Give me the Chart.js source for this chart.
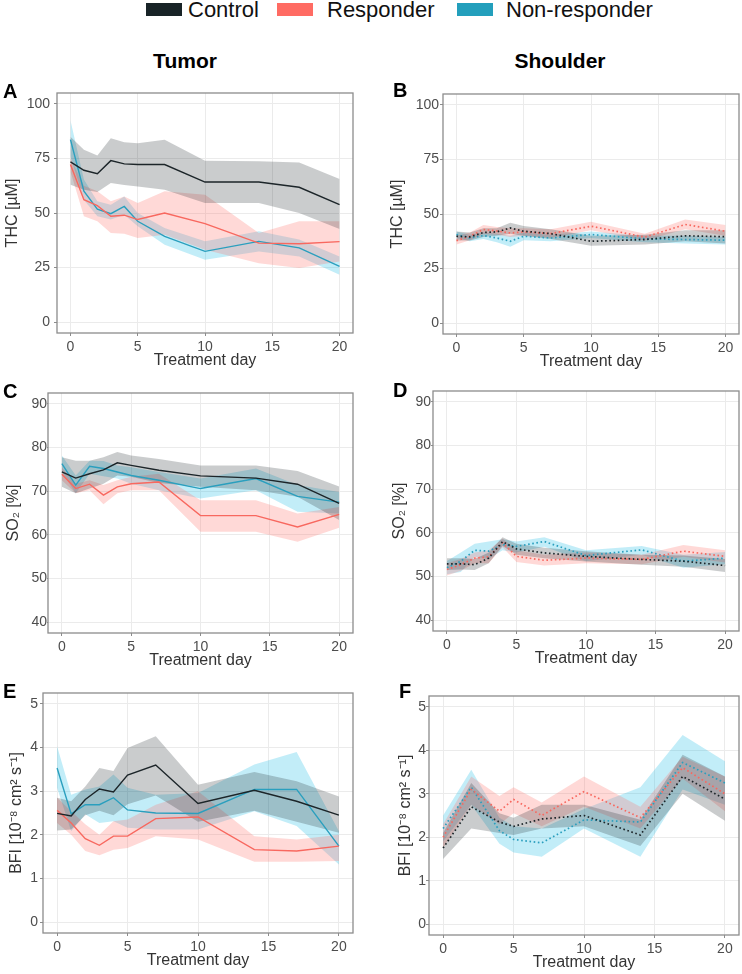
<!DOCTYPE html>
<html>
<head>
<meta charset="utf-8">
<script src="https://cdn.jsdelivr.net/npm/chart.js@4.4.1/dist/chart.umd.min.js"></script>
<style>
body { margin: 0; background: #fff; font-family: "Liberation Sans", Arial, sans-serif; }
#page { position: relative; width: 742px; height: 974px; overflow: hidden; background: #fff; }
#page canvas { position: absolute; }
.key { position: absolute; top: 3px; width: 36px; height: 13px; }
.ktxt { position: absolute; top: -2px; font-size: 22px; line-height: 24px; color: #111; }
.coltitle { position: absolute; top: 49px; width: 200px; text-align: center; font-size: 21px; line-height: 24px; font-weight: bold; color: #000; }
.letter { position: absolute; font-size: 20px; line-height: 22px; font-weight: bold; color: #000; }
</style>
</head>
<body>
<div id="page">
  <div class="key" style="left:146px;background:#182327"></div><div class="ktxt" style="left:188px">Control</div>
  <div class="key" style="left:277px;background:#ff6b63"></div><div class="ktxt" style="left:327px">Responder</div>
  <div class="key" style="left:457px;background:#239fbc"></div><div class="ktxt" style="left:506px">Non-responder</div>
  <div class="coltitle" style="left:85px">Tumor</div>
  <div class="coltitle" style="left:460px">Shoulder</div>
  <canvas id="cA"></canvas><canvas id="cB"></canvas>
  <canvas id="cC"></canvas><canvas id="cD"></canvas>
  <canvas id="cE"></canvas><canvas id="cF"></canvas>
  <div class="letter" style="left:3px;top:80px">A</div>
  <div class="letter" style="left:393px;top:79px">B</div>
  <div class="letter" style="left:3px;top:380px">C</div>
  <div class="letter" style="left:393px;top:379px">D</div>
  <div class="letter" style="left:3px;top:680px">E</div>
  <div class="letter" style="left:399px;top:680px">F</div>
</div>
<script>
// measurement days
const days = [0, 1, 2, 3, 4, 5, 7, 10, 14, 17, 20];
const daysF = [0, 2, 4, 5, 7, 10, 14, 17, 20];

// tick labels
const dayTicks = [0, 5, 10, 15, 20];
const thcTicks = [0, 25, 50, 75, 100];
const so2Ticks = [40, 50, 60, 70, 80, 90];
const bfiTicks = [0, 1, 2, 3, 4, 5];

// A - THC tumor
const aCtrl   = [73.4, 69.6, 68, 74, 72.5, 72.2, 72.2, 64.2, 64.2, 61.8, 53.8];
const aCtrlHi = [85, 79, 76.3, 84.3, 82.4, 82, 83.6, 74, 73.7, 73.2, 65.6];
const aCtrlLo = [63, 60.7, 59.6, 63.8, 62.8, 62.2, 60.7, 54.6, 54.6, 50, 42.7];
const aResp   = [72.2, 56.1, 53.4, 48.5, 49, 47, 50, 45.1, 36.2, 35.9, 36.9];
const aRespHi = [75, 62.5, 60, 55.4, 57.6, 54.6, 60, 58.4, 40.8, 46.2, 46.2];
const aRespLo = [69, 48.5, 46.2, 40.8, 40.5, 38.5, 40, 33.2, 27, 24.8, 27.8];
const aNR     = [83.6, 60, 51.8, 49.7, 53, 46.2, 39.3, 32.4, 37, 34, 25.5];
const aNRHi   = [92.5, 65.3, 55.4, 53.8, 57.6, 50, 43.1, 37, 41.6, 37.8, 30.1];
const aNRLo   = [76, 56, 48.5, 47, 49.2, 43.9, 35.5, 28.6, 32.4, 30.1, 21.7];

// B - THC shoulder
const bCtrl   = [39.8, 39.5, 41.5, 41.8, 43.6, 42.1, 41, 37.5, 38.3, 40, 39.6];
const bCtrlHi = [42, 41.5, 43.5, 43.5, 46, 44.5, 43, 40, 40.5, 42.5, 42.5];
const bCtrlLo = [37.8, 37.8, 39.5, 40, 41, 40, 38.5, 35.5, 36, 37.5, 36.5];
const bResp   = [37.8, 39.8, 42.9, 42.2, 41.3, 41.8, 41, 44.4, 39.4, 45.2, 42.1];
const bRespHi = [40, 41.5, 45, 44, 43.5, 43.5, 43, 46.5, 41, 47.5, 45];
const bRespLo = [36, 38, 41, 40.5, 39.5, 40, 39, 42.5, 37.8, 43, 40];
const bNR     = [40.6, 39, 40.1, 39, 37.5, 39.8, 39, 40.6, 38.6, 38.3, 38];
const bNRHi   = [42, 40.5, 41.5, 41, 40, 41.5, 40.5, 42, 40, 40, 39.5];
const bNRLo   = [39, 37.5, 38.5, 37, 35, 38, 37.5, 39, 37, 36.5, 36];

// C - SO2 tumor
const cCtrl   = [74.4, 73, 74, 74.9, 76.5, 75.9, 74.8, 73.5, 73, 71.6, 67.2];
const cCtrlHi = [77.8, 77, 77, 77.8, 79, 78.2, 77.4, 75.9, 75.9, 74.6, 71.1];
const cCtrlLo = [71, 69.5, 70.6, 71.7, 73.6, 73.3, 71.9, 71, 70.2, 68.7, 63.4];
const cResp   = [73.9, 70.6, 71.6, 69.1, 71, 71.7, 72.1, 64.4, 64.4, 61.8, 64.7];
const cRespHi = [75.4, 71.7, 72.5, 71.4, 72.5, 73.3, 74, 67.9, 67.9, 64.9, 66.4];
const cRespLo = [72.5, 69.5, 70.2, 67, 69.5, 70.2, 70.2, 60.7, 60.7, 58.4, 61.6];
const cNR     = [76.3, 71.4, 75.7, 75.2, 74.4, 73.6, 72.5, 70.6, 72.9, 68.8, 67.5];
const cNRHi   = [78.2, 73.6, 77, 76.9, 75.9, 75.5, 74.4, 72.9, 75.2, 71.4, 69.8];
const cNRLo   = [74.4, 69.5, 74, 73.4, 72.9, 71.7, 70.2, 68.3, 70.2, 65.3, 64.9];

// D - SO2 shoulder
const dCtrl   = [52.9, 52.9, 52.7, 54.2, 58, 56.3, 55.4, 54.6, 53.9, 53.5, 52.5];
const dCtrlHi = [54.2, 54.2, 54, 55.5, 59, 57.5, 56.6, 55.8, 55, 54.8, 54];
const dCtrlLo = [51.5, 51.6, 51.5, 53, 57, 55, 54.2, 53.4, 52.7, 52.2, 51];
const dResp   = [51.6, 52.7, 54.2, 54.5, 57.7, 54.6, 53.7, 54.2, 53.9, 55.8, 54.6];
const dRespHi = [53, 54, 55.5, 56, 58.7, 56, 55, 55.5, 55, 57.2, 56];
const dRespLo = [50.2, 51.3, 53, 53, 56.7, 53.3, 52.5, 53, 52.8, 54.5, 53.2];
const dNR     = [52, 53.5, 56, 55.8, 57.3, 56.9, 58, 54.8, 56.1, 53.5, 54.2];
const dNRHi   = [53.5, 55.5, 57.5, 58, 58.5, 58, 59, 56, 57, 55, 55.6];
const dNRLo   = [50.5, 51, 54.5, 54, 56, 55.5, 56.8, 53.5, 55, 52, 52.8];

// E - BFI tumor
const eCtrl   = [2.49, 2.43, 2.81, 3.05, 2.98, 3.37, 3.6, 2.72, 3.02, 2.77, 2.45];
const eCtrlHi = [2.85, 2.77, 3.11, 3.53, 3.46, 3.99, 4.26, 3.15, 3.44, 3.23, 2.88];
const eCtrlLo = [2.1, 2.12, 2.45, 2.55, 2.45, 2.7, 2.9, 2.3, 2.55, 2.3, 2.05];
const eResp   = [2.56, 2.27, 1.91, 1.76, 1.97, 1.97, 2.37, 2.41, 1.66, 1.63, 1.74];
const eRespHi = [2.85, 2.54, 2.24, 2.0, 2.31, 2.35, 2.69, 3.0, 1.97, 1.89, 2.0];
const eRespLo = [2.27, 2.0, 1.63, 1.53, 1.66, 1.7, 1.97, 1.89, 1.38, 1.38, 1.4];
const eNR     = [3.53, 2.48, 2.69, 2.69, 2.85, 2.57, 2.5, 2.49, 3.04, 3.04, 1.74];
const eNRHi   = [4.03, 2.92, 3.04, 3.11, 3.38, 3.08, 2.92, 2.96, 3.61, 3.9, 2.08];
const eNRLo   = [3.08, 2.08, 2.47, 2.27, 2.31, 2.16, 2.12, 2.12, 2.54, 2.2, 1.32];

// F - BFI shoulder (daysF)
const fCtrl   = [1.75, 2.7, 2.35, 2.25, 2.42, 2.5, 2.05, 3.4, 2.88];
const fCtrlHi = [2.1, 3.25, 2.55, 2.45, 2.75, 2.75, 2.4, 3.9, 3.4];
const fCtrlLo = [1.5, 2.2, 2.1, 2.05, 2.2, 2.25, 1.8, 3.0, 2.38];
const fResp   = [2.0, 3.1, 2.6, 2.87, 2.5, 3.05, 2.45, 3.6, 3.0];
const fRespHi = [2.3, 3.4, 2.95, 3.15, 2.8, 3.4, 2.7, 3.85, 3.4];
const fRespLo = [1.75, 2.75, 2.3, 2.55, 2.25, 2.7, 2.2, 3.35, 2.6];
const fNR     = [2.2, 3.15, 2.15, 1.95, 1.87, 2.4, 2.35, 3.72, 3.25];
const fNRHi   = [2.5, 3.55, 2.45, 2.25, 2.2, 2.65, 3.15, 4.35, 3.75];
const fNRLo   = [1.9, 2.75, 1.85, 1.65, 1.55, 2.2, 1.55, 3.1, 2.75];

Chart.defaults.font.family = '"Liberation Sans", Arial, sans-serif';
Chart.defaults.color = '#4d4d4d';

const lineCol = ['#1c2529', '#f8685f', '#2a9fbe'];
const bandCol = ['rgba(24,35,39,0.23)', 'rgba(255,107,99,0.26)', 'rgba(0,180,225,0.24)'];

// panel border like ggplot theme_bw
const frame = {
  id: 'frame',
  afterDraw(chart) {
    const a = chart.chartArea, c = chart.ctx;
    c.save();
    c.strokeStyle = '#8c8c8c';
    c.lineWidth = 1.3;
    c.strokeRect(a.left, a.top, a.right - a.left, a.bottom - a.top);
    c.restore();
  }
};

function pts(x, y) {
  return x.map((d, i) => ({x: d, y: y[i]}));
}

function makePanel(p) {
  const cv = document.getElementById(p.id);
  const h = p.area[3] + 37 - p.top;
  cv.width = 371; cv.height = h;
  cv.style.left = p.left + 'px';
  cv.style.top = p.top + 'px';

  const ds = [];
  p.groups.forEach((g, i) => {
    ds.push({data: pts(p.x, g[2]), borderWidth: 0, pointRadius: 0, fill: false, order: 1});
    ds.push({data: pts(p.x, g[1]), borderWidth: 0, pointRadius: 0, fill: '-1', backgroundColor: bandCol[i], order: 1});
  });
  p.groups.forEach((g, i) => {
    ds.push({
      data: pts(p.x, g[0]), borderColor: lineCol[i], pointRadius: 0, fill: false, order: 0,
      borderWidth: p.dotted ? 1.7 : 1.4,
      borderDash: p.dotted ? [1.6, 2.6] : []
    });
  });

  const gap = p.yGap;
  const tl = Math.min(3, gap);
  new Chart(cv, {
    type: 'line',
    data: {datasets: ds},
    plugins: [frame],
    options: {
      responsive: false,
      animation: false,
      layout: {padding: {left: 0, top: p.area[1] - p.top, right: p.left + 371 - p.area[2], bottom: 0}},
      plugins: {legend: {display: false}, tooltip: {enabled: false}},
      scales: {
        x: {
          type: 'linear', min: -1, max: 21,
          afterBuildTicks: s => { s.ticks = dayTicks.map(v => ({value: v})); },
          afterFit: s => { s.height = 37; },
          grid: {color: '#ebebeb', lineWidth: 1, tickColor: '#8c8c8c', tickLength: 3},
          border: {display: false},
          ticks: {font: {size: 14}, color: '#4d4d4d', padding: 3, maxRotation: 0},
          title: {display: true, text: 'Treatment day', font: {size: 16}, color: '#333', padding: {top: 0, bottom: 0}}
        },
        y: {
          type: 'linear', min: p.ymin, max: p.ymax,
          afterBuildTicks: s => { s.ticks = p.yTicks.map(v => ({value: v})); },
          afterFit: s => { s.width = p.area[0] - p.left; },
          grid: {color: '#ebebeb', lineWidth: 1, tickColor: '#8c8c8c', tickLength: tl},
          border: {display: false},
          ticks: {font: {size: 14}, color: '#4d4d4d', padding: gap - tl},
          title: {display: true, text: p.ytitle, font: {size: 16}, color: '#333', padding: {top: p.yTitleX - p.left - 9.6, bottom: 0}}
        }
      }
    }
  });
}

const thcTitle = 'THC [\u00b5M]';
const so2Title = 'SO\u2082 [%]';
const bfiTitle = 'BFI [10\u207b\u2078 cm\u00b2 s\u207b\u00b9]';

makePanel({id: 'cA', left: 0, top: 75, area: [57, 93, 353, 333], yGap: 7, yTitleX: 13,
  x: days, ymin: -5, ymax: 105, yTicks: thcTicks, ytitle: thcTitle, dotted: false,
  groups: [[aCtrl, aCtrlLo, aCtrlHi], [aResp, aRespLo, aRespHi], [aNR, aNRLo, aNRHi]]});
makePanel({id: 'cB', left: 371, top: 75, area: [443, 94, 739, 334], yGap: 4, yTitleX: 398,
  x: days, ymin: -5, ymax: 105, yTicks: thcTicks, ytitle: thcTitle, dotted: true,
  groups: [[bCtrl, bCtrlLo, bCtrlHi], [bResp, bRespLo, bRespHi], [bNR, bNRLo, bNRHi]]});
makePanel({id: 'cC', left: 0, top: 375, area: [48, 393, 353, 633], yGap: 1, yTitleX: 14,
  x: days, ymin: 37.5, ymax: 92.5, yTicks: so2Ticks, ytitle: so2Title, dotted: false,
  groups: [[cCtrl, cCtrlLo, cCtrlHi], [cResp, cRespLo, cRespHi], [cNR, cNRLo, cNRHi]]});
makePanel({id: 'cD', left: 371, top: 375, area: [433, 391, 739, 631], yGap: 2, yTitleX: 400,
  x: days, ymin: 37.5, ymax: 92.5, yTicks: so2Ticks, ytitle: so2Title, dotted: true,
  groups: [[dCtrl, dCtrlLo, dCtrlHi], [dResp, dRespLo, dRespHi], [dNR, dNRLo, dNRHi]]});
makePanel({id: 'cE', left: 0, top: 675, area: [43, 693, 353, 933], yGap: 5, yTitleX: 17,
  x: days, ymin: -0.25, ymax: 5.25, yTicks: bfiTicks, ytitle: bfiTitle, dotted: false,
  groups: [[eCtrl, eCtrlLo, eCtrlHi], [eResp, eRespLo, eRespHi], [eNR, eNRLo, eNRHi]]});
makePanel({id: 'cF', left: 371, top: 675, area: [429, 696, 739, 935], yGap: 3, yTitleX: 406,
  x: daysF, ymin: -0.25, ymax: 5.25, yTicks: bfiTicks, ytitle: bfiTitle, dotted: true,
  groups: [[fCtrl, fCtrlLo, fCtrlHi], [fResp, fRespLo, fRespHi], [fNR, fNRLo, fNRHi]]});
</script>
</body>
</html>
